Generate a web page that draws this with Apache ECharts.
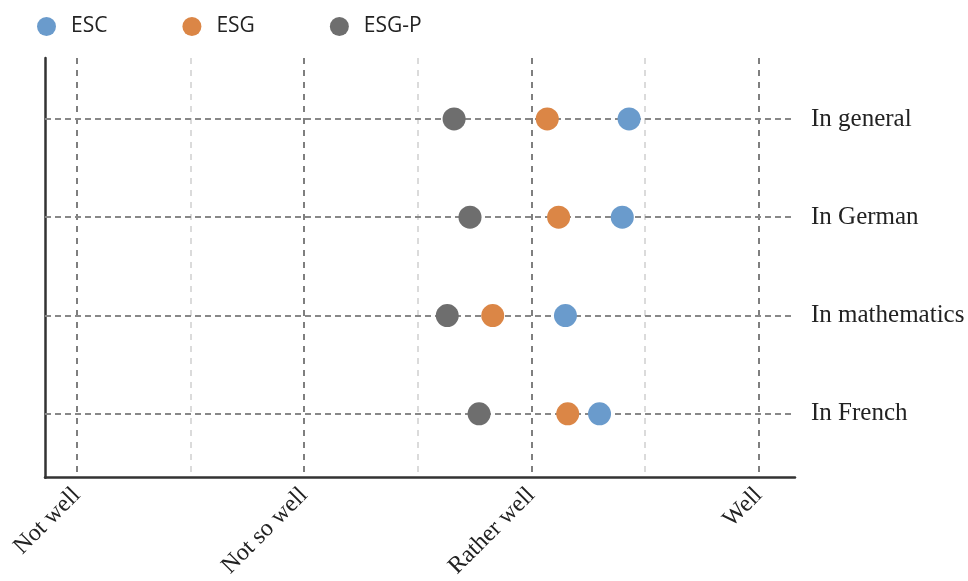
<!DOCTYPE html>
<html><head><meta charset="utf-8">
<script src="https://cdn.jsdelivr.net/npm/echarts@6/dist/echarts.min.js"></script>
<style>html,body{margin:0;padding:0;background:#fff}#c{width:968px;height:581px}</style>
</head><body><div id="c"></div>
<script>
const categories = ['In general', 'In German', 'In mathematics', 'In French'];
const xTickLabels = ['Not well', 'Not so well', 'Rather well', 'Well'];
const xTickValues = [1, 2, 3, 4];
const xMinorValues = [1.5, 2.5, 3.5];
const seriesNames = ['ESC', 'ESG', 'ESG-P'];
const escValues = [3.43, 3.40, 3.15, 3.30];
const esgValues = [3.07, 3.12, 2.83, 3.16];
const esgpValues = [2.66, 2.73, 2.63, 2.77];

const colors = ['#6a9bcc', '#db8646', '#6e6e6e'];
const chart = echarts.init(document.getElementById('c'));
const serif = 'Liberation Serif';

function pts(vals) { return vals.map((v, i) => [v, i]); }

const gridLines = [];
xTickValues.forEach(v => gridLines.push({ xAxis: v, lineStyle: { color: '#555', width: 1.5, type: [6, 6] } }));
xMinorValues.forEach(v => gridLines.push({ xAxis: v, lineStyle: { color: '#cfcfcf', width: 1.5, type: [6, 6] } }));
categories.forEach((c, i) => gridLines.push({ yAxis: i, lineStyle: { color: '#888', width: 2, type: [6, 4] } }));

function sc(i, vals) {
  return { name: seriesNames[i], type: 'scatter', symbolSize: 23, data: pts(vals), z: 5,
    itemStyle: { color: colors[i], opacity: 1 } };
}

chart.setOption({
  animation: false,
  grid: { left: 45, right: 173, top: 58, bottom: 103, containLabel: false },
  legend: {
    data: seriesNames,
    left: 32, top: 11,
    icon: 'circle', itemWidth: 19, itemHeight: 19, itemGap: 75,
    textStyle: { fontFamily: 'Open Sans', fontSize: 21, color: '#222', padding: [0, 0, 0, 10] }
  },
  xAxis: {
    type: 'value', min: 0.86, max: 4.16,
    splitLine: { show: false },
    axisLine: { show: true, onZero: false, lineStyle: { color: '#333', width: 2.5 } },
    axisTick: { show: false },
    axisLabel: {
      customValues: xTickValues, rotate: 45, margin: 14,
      fontFamily: serif, fontSize: 24, color: '#222',
      formatter: v => xTickLabels[xTickValues.indexOf(v)] || ''
    }
  },
  yAxis: [{
    type: 'value', inverse: true, min: -0.62, max: 3.65,
    splitLine: { show: false },
    axisLine: { show: true, onZero: false, lineStyle: { color: '#333', width: 2.5 } },
    axisTick: { show: false },
    axisLabel: { show: false }
  }, {
    type: 'value', inverse: true, min: -0.62, max: 3.65, position: 'right',
    splitLine: { show: false },
    axisLine: { show: false }, axisTick: { show: false },
    axisLabel: {
      customValues: [0, 1, 2, 3], margin: 16,
      fontFamily: serif, fontSize: 25, color: '#222',
      formatter: v => categories[v] || ''
    }
  }],
  series: [
    { name: 'grid', type: 'scatter', data: [], silent: true, z: 1,
      markLine: { silent: true, symbol: 'none', label: { show: false }, data: gridLines, animation: false } },
    sc(0, escValues), sc(1, esgValues), sc(2, esgpValues)
  ]
});
</script></body></html>
